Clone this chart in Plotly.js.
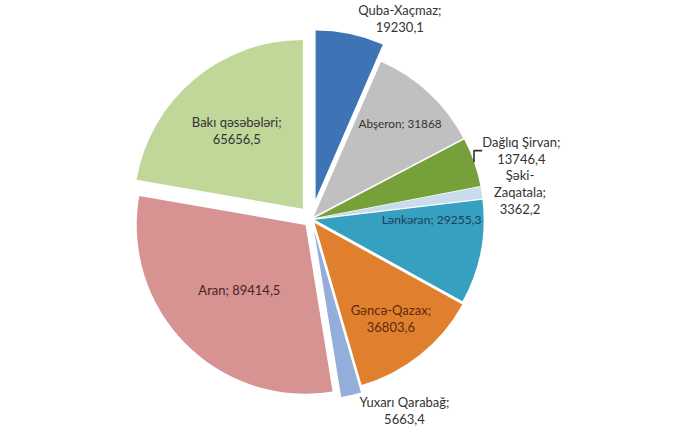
<!DOCTYPE html>
<html>
<head>
<meta charset="utf-8">
<script src="https://cdn.plot.ly/plotly-3.0.1.min.js"></script>
<style>html,body{margin:0;padding:0;background:#fff;}#chart{width:690px;height:438px;}</style>
</head>
<body>
<div id="chart"></div>
<script>
var categories = ["Quba-Xaçmaz", "Abşeron", "Dağlıq Şirvan", "Şəki-Zaqatala", "Lənkəran", "Gəncə-Qazax", "Yuxarı Qarabağ", "Aran", "Bakı qəsəbələri"];
var labelTexts = ["Quba-Xaçmaz;", "Abşeron;", "Dağlıq Şirvan;", "Şəki-<br>Zaqatala;", "Lənkəran;", "Gəncə-Qazax;", "Yuxarı Qarabağ;", "Aran;", "Bakı qəsəbələri;"];
var values = [19230.1, 31868, 13746.4, 3362.2, 29255.3, 36803.6, 5663.4, 89414.5, 65656.5];
var colors = ["#3E74B6", "#C0C0C0", "#76A03A", "#C9DCEB", "#35A0BF", "#E0802F", "#93AEDA", "#D69392", "#C0D79A"];
var textColors = ["#333333", "#333333", "#333333", "#333333", "#1E3F5C", "#5B2A08", "#333333", "#4A2424", "#333333"];
var positions = ["outside", "inside", "outside", "outside", "inside", "inside", "outside", "inside", "inside"];
var pulls = [0.12, 0.02, 0.02, 0.02, 0.02, 0.03, 0.07, 0.05, 0.08];
var breaks = ["<br>", " ", "<br>", "<br>", " ", "<br>", "<br>", " ", "<br>"];

function fmt(v){ return String(v).replace('.', ','); }
var texts = values.map(function(v, i){ return labelTexts[i] + breaks[i] + fmt(v); });

var trace = {
  type: "pie",
  labels: categories,
  values: values,
  text: texts,
  textinfo: "text",
  textposition: positions,
  insidetextorientation: "horizontal",
  insidetextfont: {family: "Lato, 'Open Sans', sans-serif", size: 13, color: textColors},
  outsidetextfont: {family: "Lato, 'Open Sans', sans-serif", size: 13, color: "#333333"},
  sort: false,
  direction: "clockwise",
  rotation: 0,
  pull: pulls,
  marker: {colors: colors, line: {color: "#ffffff", width: 0}},
  automargin: false,
  domain: {x: [0.0, 0.9], y: [0.0, 1.0]},
  showlegend: false,
  hoverinfo: "label+value"
};

Plotly.newPlot("chart", [trace], {
  width: 690, height: 438,
  margin: {l: 10, r: 10, t: 30, b: 30},
  paper_bgcolor: "#ffffff",
  font: {family: "Lato, 'Open Sans', sans-serif", size: 13, color: "#333333"},
  showlegend: false
}, {displayModeBar: false, staticPlot: true});
</script>
</body>
</html>
